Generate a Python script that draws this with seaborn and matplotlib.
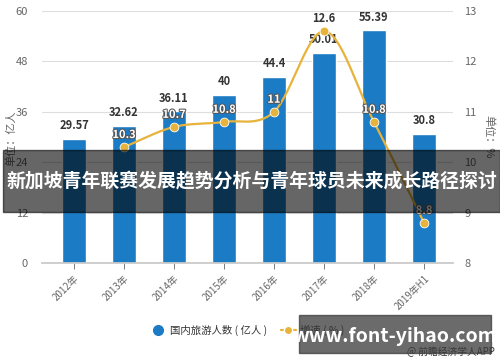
import numpy as np
import pandas as pd
import matplotlib
matplotlib.use("Agg")
import matplotlib.pyplot as plt
import matplotlib.patheffects as pe
import seaborn as sns
from matplotlib.lines import Line2D

# -----------------------------------
# Data
# -----------------------------------

years = ["2012年", "2013年", "2014年", "2015年", "2016年", "2017年", "2018年", "2019年H1"]
tourists = [29.57, 32.62, 36.11, 40, 44.4, 50.01, 55.39, 30.8]
growth_years = ["2013年", "2014年", "2015年", "2016年", "2017年", "2018年", "2019年H1"]
growth = [10.3, 10.7, 10.8, 11, 12.6, 10.8, 8.8]

title = "新加坡青年联赛发展趋势分析与青年球员未来成长路径探讨"

BLUE = "#1B7BC4"
GOLD = "#E8B33A"

sns.set_theme(style="white")
plt.rcParams["font.family"] = ["Noto Sans CJK SC", "DejaVu Sans"]

fig = plt.figure(figsize=(5, 3.62), dpi=100)
ax = fig.add_axes([42 / 500, 1 - 263 / 362, (453 - 42) / 500, (263 - 11) / 362])

# -----------------------------------
# Bars
# -----------------------------------

df = pd.DataFrame({"year": years, "value": tourists})
sns.barplot(data=df, x="year", y="value", color=BLUE, width=0.48,
            saturation=1, ax=ax)

ax.set_ylim(0, 60)
ax.set_yticks(np.arange(0, 61, 12))
ax.set_xlim(-0.64, 7.58)
ax.set_xlabel("")
ax.set_ylabel("")
ax.grid(axis="y", color="#dddddd", linewidth=0.8)
ax.set_axisbelow(True)
for s in ["top", "right", "left"]:
    ax.spines[s].set_visible(False)
ax.spines["bottom"].set_color("#c8c8c8")
ax.tick_params(axis="y", colors="#666666", labelsize=8, length=0, pad=10)
ax.tick_params(axis="x", colors="#666666", labelsize=7, length=4, width=0.6,
               bottom=True, direction="out")
plt.setp(ax.get_xticklabels(), rotation=45, ha="right", rotation_mode="anchor")

for i, v in enumerate(tourists):
    ax.text(i, v + 1.6, f"{v:g}", ha="center", va="bottom", fontsize=8,
            fontweight="bold", color="#333333")

# -----------------------------------
# Growth line (right axis)
# -----------------------------------

ax2 = ax.twinx()
ax2.set_ylim(8, 13)
ax2.set_yticks(np.arange(8, 14, 1))
for s in ax2.spines.values():
    s.set_visible(False)
ax2.tick_params(axis="y", colors="#666666", labelsize=8, length=0, pad=8)
ax2.grid(False)

gx = np.array([years.index(y) for y in growth_years], dtype=float)
gy = np.array(growth, dtype=float)

# smooth curve through the points (flat tangent at extremes)
n = len(gx)
tang = np.zeros(n)
for i in range(n):
    if i == 0:
        tang[i] = gy[1] - gy[0]
    elif i == n - 1:
        tang[i] = gy[-1] - gy[-2]
    else:
        a, b = gy[i] - gy[i - 1], gy[i + 1] - gy[i]
        tang[i] = 0 if a * b <= 0 else (gy[i + 1] - gy[i - 1]) / 2
cx, cy = [], []
for i in range(n - 1):
    t = np.linspace(0, 1, 30)
    h00 = 2 * t**3 - 3 * t**2 + 1
    h10 = t**3 - 2 * t**2 + t
    h01 = -2 * t**3 + 3 * t**2
    h11 = t**3 - t**2
    cx.extend(gx[i] + t)
    cy.extend(h00 * gy[i] + h10 * tang[i] + h01 * gy[i + 1] + h11 * tang[i + 1])
ax2.plot(cx, cy, color=GOLD, linewidth=1.6, zorder=3)
sns.scatterplot(x=gx, y=gy, color=GOLD, s=40, edgecolor="white", linewidth=0.6,
                ax=ax2, zorder=4)

for x, y in zip(gx, gy):
    ax2.text(x, y + 0.12, f"{y:g}", ha="center", va="bottom", fontsize=8,
             color="white", fontweight="bold",
             path_effects=[pe.withStroke(linewidth=1.5, foreground="#555555")], zorder=5)
# peak label in dark text
ax2.texts[4].set_color("#333333")
ax2.texts[4].set_path_effects([])

# unit labels
fig.text(11 / 500, 1 - 138 / 362, "单位：亿人", rotation=90, ha="center", va="center",
         fontsize=8, color="#666666")
fig.text(489 / 500, 1 - 137 / 362, "单位：%", rotation=270, ha="center", va="center",
         fontsize=8, color="#666666")

# -----------------------------------
# Legend
# -----------------------------------

handles = [
    Line2D([0], [0], marker="o", color="none", markerfacecolor=BLUE,
           markeredgecolor=BLUE, markersize=7),
    Line2D([0], [0], marker="o", color=GOLD, markerfacecolor=GOLD,
           markeredgecolor="white", markersize=6, linewidth=1.6),
]
leg = fig.legend(handles, ["国内旅游人数 ( 亿人 )", "增速 ( % )"], loc="center",
                 bbox_to_anchor=(0.495, 1 - 330 / 362), ncol=2, frameon=False,
                 fontsize=7.5, labelcolor="#333333", handlelength=1.5,
                 columnspacing=1.3, handletextpad=0.4)
leg.set_zorder(12)

# -----------------------------------
# Overlays
# -----------------------------------

fig.patches.append(plt.Rectangle((3 / 500, 1 - 212 / 362), 497 / 500, 62 / 362,
                                 transform=fig.transFigure, color="black",
                                 alpha=0.6, zorder=10))
fig.text(0.503, 1 - 181 / 362, title, ha="center", va="center", fontsize=13.6,
         fontweight="bold", color="white", zorder=11)

fig.patches.append(plt.Rectangle((299 / 500, 1 - 353 / 362), 192 / 500, 38 / 362,
                                 transform=fig.transFigure, color="#3a3a3a",
                                 alpha=0.75, zorder=10))
fig.text(395 / 500, 1 - 336 / 362, "www.font-yihao.com", ha="center", va="center",
         fontsize=14, fontweight="bold", color="white", zorder=13)
fig.text(495 / 500, 1 - 352 / 362, "@ 前瞻经济学人APP", ha="right", va="center",
         fontsize=7, color="#333333", zorder=9)

fig.savefig("out.png", dpi=100)
